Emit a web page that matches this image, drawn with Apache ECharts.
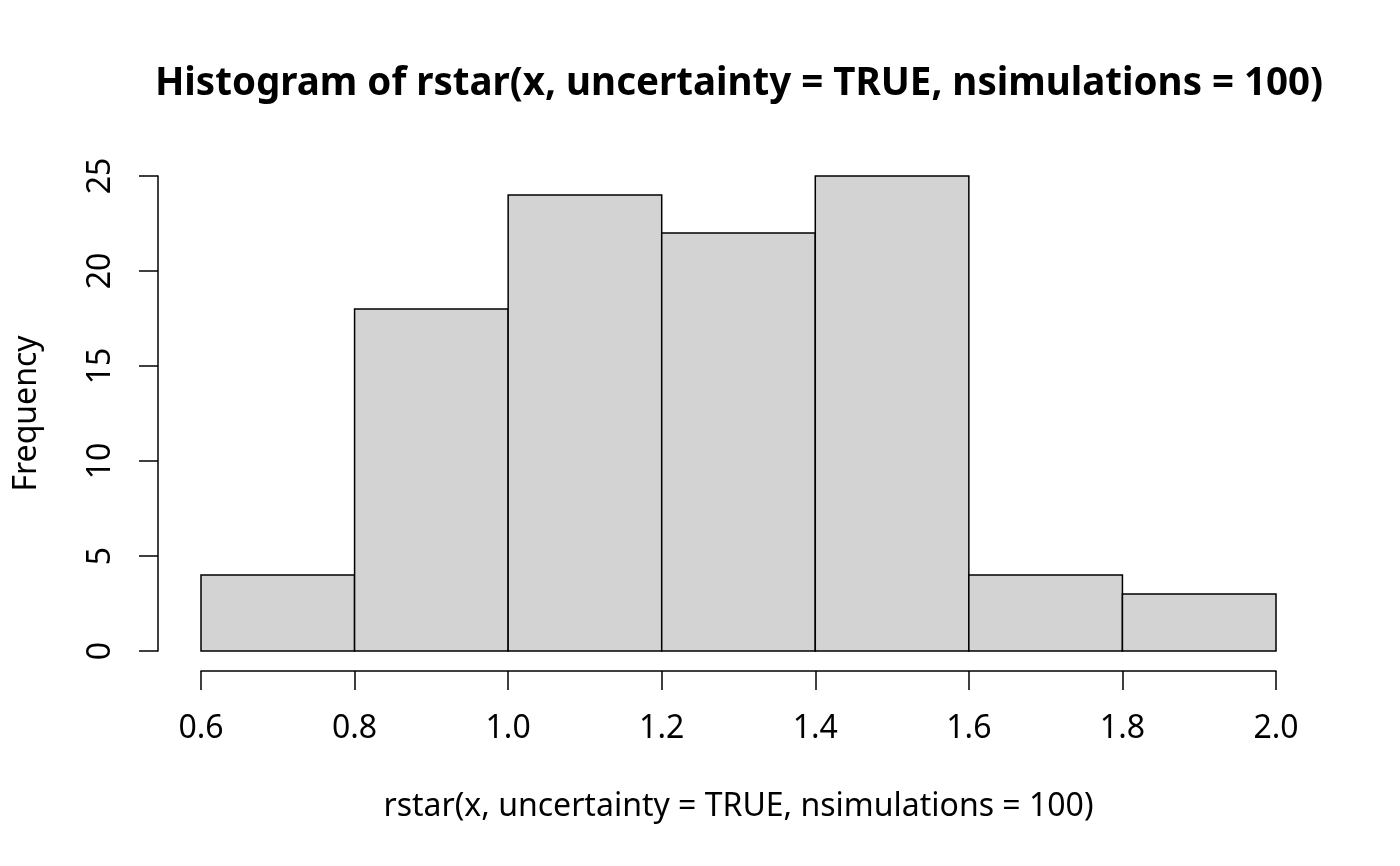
<!DOCTYPE html>
<html>
<head>
<meta charset="utf-8">
<script src="https://cdn.jsdelivr.net/npm/echarts@6/dist/echarts.min.js"></script>
<style>
  html, body { margin: 0; padding: 0; background: #fff; }
  #chart { width: 1400px; height: 866px; }
</style>
</head>
<body>
<div id="chart"></div>
<script>
// histogram bins and counts
var breaks = [0.6, 0.8, 1.0, 1.2, 1.4, 1.6, 1.8, 2.0];
var counts = [4, 18, 24, 22, 25, 4, 3];
var xTicks = [0.6, 0.8, 1.0, 1.2, 1.4, 1.6, 1.8, 2.0];
var yTicks = [0, 5, 10, 15, 20, 25];

var titleText = 'Histogram of rstar(x, uncertainty = TRUE, nsimulations = 100)';
var xName = 'rstar(x, uncertainty = TRUE, nsimulations = 100)';
var yName = 'Frequency';

var bins = counts.map(function (c, i) {
  return [breaks[i], breaks[i + 1], c];
});

var font = '"Noto Sans", "Open Sans", sans-serif';
var myChart = echarts.init(document.getElementById('chart'));

option = {
  animation: false,
  backgroundColor: '#fff',
  textStyle: { fontFamily: font },
  title: {
    text: titleText,
    left: 734,
    textAlign: 'center',
    top: 60,
    textStyle: { fontFamily: font, fontSize: 38.5, fontWeight: 'bold', color: '#000' }
  },
  grid: { left: 201, right: 124, top: 176, bottom: 215 },
  xAxis: {
    type: 'value',
    min: xTicks[0],
    max: xTicks[xTicks.length - 1],
    interval: 0.2,
    offset: 20,
    name: xName,
    nameLocation: 'middle',
    nameGap: 120,
    nameTextStyle: { fontFamily: font, fontSize: 32, color: '#000' },
    axisLine: { show: true, onZero: false, lineStyle: { color: '#000', width: 1.5 } },
    axisTick: { show: true, length: 19, lineStyle: { color: '#000', width: 1.5 } },
    axisLabel: {
      margin: 42,
      fontFamily: font, fontSize: 32, color: '#000',
      formatter: function (v) { return v.toFixed(1); }
    },
    splitLine: { show: false }
  },
  yAxis: {
    type: 'value',
    min: yTicks[0],
    max: yTicks[yTicks.length - 1],
    interval: 5,
    offset: 43,
    name: yName,
    nameLocation: 'middle',
    nameGap: 115,
    nameTextStyle: { fontFamily: font, fontSize: 32, color: '#000' },
    axisLine: { show: true, onZero: false, lineStyle: { color: '#000', width: 1.5 } },
    axisTick: { show: true, length: 19, lineStyle: { color: '#000', width: 1.5 } },
    axisLabel: {
      rotate: 90,
      margin: 41,
      fontFamily: font, fontSize: 32, color: '#000'
    },
    splitLine: { show: false }
  },
  series: [
    {
      type: 'custom',
      data: bins,
      encode: { x: [0, 1], y: 2 },
      renderItem: function (params, api) {
        var p0 = api.coord([api.value(0), api.value(2)]);
        var p1 = api.coord([api.value(1), 0]);
        return {
          type: 'rect',
          shape: { x: p0[0], y: p0[1], width: p1[0] - p0[0], height: p1[1] - p0[1] },
          style: { fill: '#D3D3D3', stroke: '#000', lineWidth: 1.5 }
        };
      }
    }
  ]
};

myChart.setOption(option);
</script>
</body>
</html>
